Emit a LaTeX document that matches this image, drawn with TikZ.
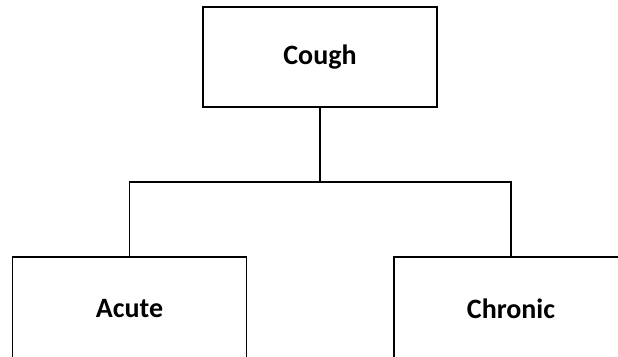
\documentclass[tikz,border=0pt]{standalone}
\usepackage{fontspec}
\setmainfont{Carlito}
\begin{document}
\begin{tikzpicture}[x=1pt, y=-1pt,
    box/.style={draw, line width=1.8pt, minimum width=234pt, minimum height=100pt,
                font=\fontsize{28}{32}\selectfont\bfseries, inner sep=0pt},
    link/.style={line width=1.8pt}]
    \clip (0,0) rectangle (618,356);
    \node[box] (cough) at (320,57) {Cough};
    \node[box, minimum height=104pt] (acute) at (129.5,309) {Acute};
    \node[box, minimum height=104pt] (chronic) at (511,309) {Chronic};
    \coordinate (fork) at (320,182);
    \draw[link] (cough.south) -- (fork);
    \draw[link] (fork) -| (acute.north);
    \draw[link] (fork) -| (chronic.north);
\end{tikzpicture}
\end{document}
